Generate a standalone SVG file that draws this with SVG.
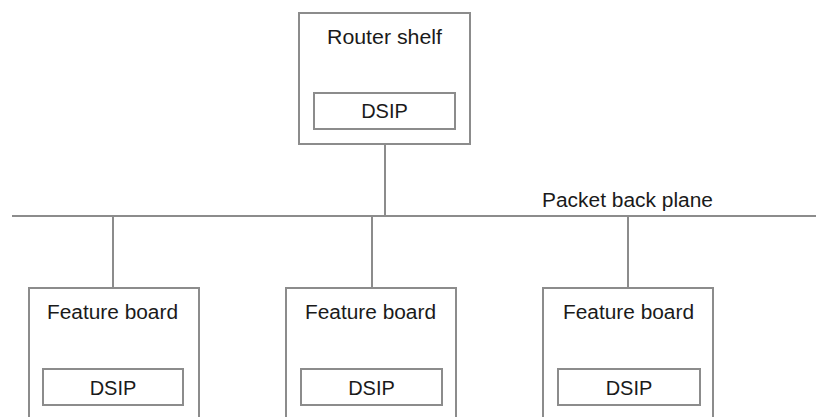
<svg xmlns="http://www.w3.org/2000/svg" width="816" height="417" viewBox="0 0 816 417">
<style>
.box{fill:#fff;stroke:#8c8c8c;stroke-width:2}
.inner{fill:#fff;stroke:#8c8c8c;stroke-width:2}
.wire{stroke:#8c8c8c;stroke-width:2;fill:none}
text{font-family:"Liberation Sans",Arial,sans-serif;font-size:20px;fill:#1a1a1a}
</style>
<rect width="816" height="417" fill="#fff"/>
<g id="connectors">
<line class="wire" x1="12" y1="216" x2="816" y2="216"/>
<line class="wire" x1="385" y1="144" x2="385" y2="216"/>
<line class="wire" x1="113" y1="216" x2="113" y2="288"/>
<line class="wire" x1="372" y1="216" x2="372" y2="288"/>
<line class="wire" x1="628" y1="216" x2="628" y2="288"/>
</g>
<g id="backplane-label">
<text x="542" y="207" textLength="171" lengthAdjust="spacingAndGlyphs">Packet back plane</text>
</g>
<g id="router-shelf">
<rect class="box" x="299" y="13" width="171" height="131"/>
<text x="327" y="44" textLength="115" lengthAdjust="spacingAndGlyphs">Router shelf</text>
<rect class="inner" x="314" y="93" width="141" height="36"/>
<text x="384.5" y="118" text-anchor="middle">DSIP</text>
</g>
<g id="feature-board-1">
<rect class="box" x="29" y="288" width="170" height="140"/>
<text x="47" y="319" textLength="131" lengthAdjust="spacingAndGlyphs">Feature board</text>
<rect class="inner" x="43" y="369" width="140" height="36"/>
<text x="113" y="395" text-anchor="middle">DSIP</text>
</g>
<g id="feature-board-2">
<rect class="box" x="286" y="288" width="170" height="140"/>
<text x="305" y="319" textLength="131" lengthAdjust="spacingAndGlyphs">Feature board</text>
<rect class="inner" x="301" y="369" width="141" height="36"/>
<text x="371.5" y="395" text-anchor="middle">DSIP</text>
</g>
<g id="feature-board-3">
<rect class="box" x="543" y="288" width="170" height="140"/>
<text x="563" y="319" textLength="131" lengthAdjust="spacingAndGlyphs">Feature board</text>
<rect class="inner" x="558" y="369" width="142" height="36"/>
<text x="629" y="395" text-anchor="middle">DSIP</text>
</g>
</svg>
